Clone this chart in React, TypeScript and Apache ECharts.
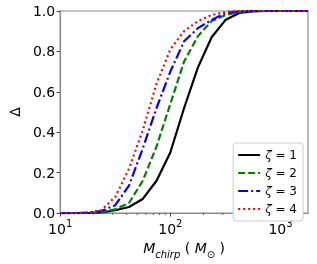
import React, { useEffect, useRef } from "react";
import * as echarts from "echarts";

const massValues = [10, 13.34, 17.78, 23.71, 31.62, 42.17, 56.23, 74.99, 100, 133.4, 177.8, 237.1, 316.2, 421.7, 562.3, 749.9, 1000, 1334, 1778];
const zeta1 = [0, 0, 0.0005, 0.003, 0.014, 0.03, 0.07, 0.16, 0.3, 0.52, 0.72, 0.87, 0.955, 0.99, 0.998, 1, 1, 1, 1];
const zeta2 = [0, 0, 0.001, 0.005, 0.019, 0.05, 0.16, 0.33, 0.54, 0.75, 0.875, 0.95, 0.98, 0.995, 1, 1, 1, 1, 1];
const zeta3 = [0, 0, 0.002, 0.01, 0.039, 0.136, 0.32, 0.52, 0.7, 0.85, 0.915, 0.956, 0.99, 0.998, 1, 1, 1, 1, 1];
const zeta4 = [0, 0, 0.003, 0.015, 0.08, 0.22, 0.41, 0.64, 0.81, 0.9, 0.95, 0.98, 0.995, 1, 1, 1, 1, 1, 1];
const seriesNames = ["ζ = 1", "ζ = 2", "ζ = 3", "ζ = 4"];
const minorTickValues = [20, 30, 40, 50, 60, 70, 80, 90, 200, 300, 400, 500, 600, 700, 800, 900];
const xMin = 10;
const xMax = 1778;

export default function App() {
  const ref = useRef<HTMLDivElement>(null);
  useEffect(() => {
    const chart = echarts.init(ref.current!, null, { renderer: "svg" });
    const font = "DejaVu Sans";
    const styles = [
      { color: "#000000", type: "solid" as any },
      { color: "#008000", type: [7, 3] as any },
      { color: "#0000ff", type: [10, 3, 2, 3] as any },
      { color: "#ff0000", type: [2, 3] as any },
    ];
    const all = [zeta1, zeta2, zeta3, zeta4];
    const lineSeries = all.map((vals, i) => ({
      name: seriesNames[i],
      type: "line",
      symbol: "none",
      data: massValues.map((m, j) => [m, vals[j]]),
      lineStyle: { width: 2.2, color: styles[i].color, type: styles[i].type, cap: "butt" },
      itemStyle: { color: styles[i].color },
      z: 3 + i,
    }));
    chart.setOption({
      animation: false,
      textStyle: { fontFamily: font },
      grid: { left: 53, right: 9, top: 11, bottom: 47, show: true, borderColor: "#8a8a8a", borderWidth: 1.2 },
      legend: {
        right: 14,
        top: 143,
        orient: "vertical",
        itemWidth: 22,
        itemHeight: 10,
        itemGap: 6,
        padding: [6, 6, 6, 4],
        borderColor: "#cccccc",
        borderWidth: 1,
        borderRadius: 3,
        backgroundColor: "#ffffff",
        data: seriesNames,
        itemStyle: { color: "transparent", borderWidth: 0, opacity: 0 },
        formatter: (name: string) => `{z|ζ}{t|${name.slice(1)}}`,
        textStyle: {
          fontFamily: font,
          rich: {
            z: { fontSize: 12, fontStyle: "italic", fontFamily: font, color: "#000" },
            t: { fontSize: 12, fontFamily: font, color: "#000" },
          },
        },
      },
      xAxis: {
        type: "log",
        logBase: 10,
        min: xMin,
        max: xMax,
        axisLine: { show: true, lineStyle: { color: "#8a8a8a", width: 1.2 } },
        axisTick: { show: true, inside: false, length: 3.5, lineStyle: { color: "#444" } },
        splitLine: { show: false },
        axisLabel: {
          margin: 5,
          showMaxLabel: false,
          formatter: (v: number) => `{b|10}{s|${Math.round(Math.log10(v))}}`,
          rich: {
            b: { fontSize: 14, fontFamily: font, color: "#000", verticalAlign: "bottom", lineHeight: 18 },
            s: { fontSize: 10, fontFamily: font, color: "#000", verticalAlign: "top", lineHeight: 18 },
          },
        },
        name: "{m|M}{c|chirp}{n| ( }{m|M}{o|⊙}{n| )}",
        nameLocation: "middle",
        nameGap: 24,
        nameTextStyle: {
          rich: {
            m: { fontSize: 14, fontStyle: "italic", fontFamily: font, color: "#000", verticalAlign: "top", lineHeight: 18 },
            c: { fontSize: 10, fontStyle: "italic", fontFamily: font, color: "#000", verticalAlign: "bottom", lineHeight: 18 },
            n: { fontSize: 14, fontFamily: font, color: "#000", verticalAlign: "top", lineHeight: 18 },
            o: { fontSize: 10, fontFamily: font, color: "#000", verticalAlign: "bottom", lineHeight: 18 },
          },
        },
      },
      yAxis: {
        type: "value",
        min: 0,
        max: 1,
        interval: 0.2,
        axisLine: { show: true, lineStyle: { color: "#8a8a8a", width: 1.2 } },
        axisTick: { show: true, inside: false, length: 3.5, lineStyle: { color: "#444" } },
        splitLine: { show: false },
        axisLabel: { fontSize: 14, color: "#000", margin: 5, formatter: (v: number) => v.toFixed(1) },
        name: "Δ",
        nameLocation: "middle",
        nameGap: 36,
        nameTextStyle: { fontSize: 14, color: "#000", fontFamily: font },
      },
      series: [
        ...lineSeries,
        {
          type: "custom",
          clip: false,
          silent: true,
          data: minorTickValues.map((v) => [v, 0]),
          renderItem: (params: any, api: any) => {
            const p = api.coord([api.value(0), 0]);
            return {
              type: "line",
              shape: { x1: p[0], y1: p[1], x2: p[0], y2: p[1] + 2 },
              style: { stroke: "#444", lineWidth: 0.8 },
            };
          },
          z: 1,
        },
      ],
    });
    return () => chart.dispose();
  }, []);
  return <div ref={ref} style={{ position: "fixed", left: 0, top: 0, width: 317, height: 264 }} />;
}
